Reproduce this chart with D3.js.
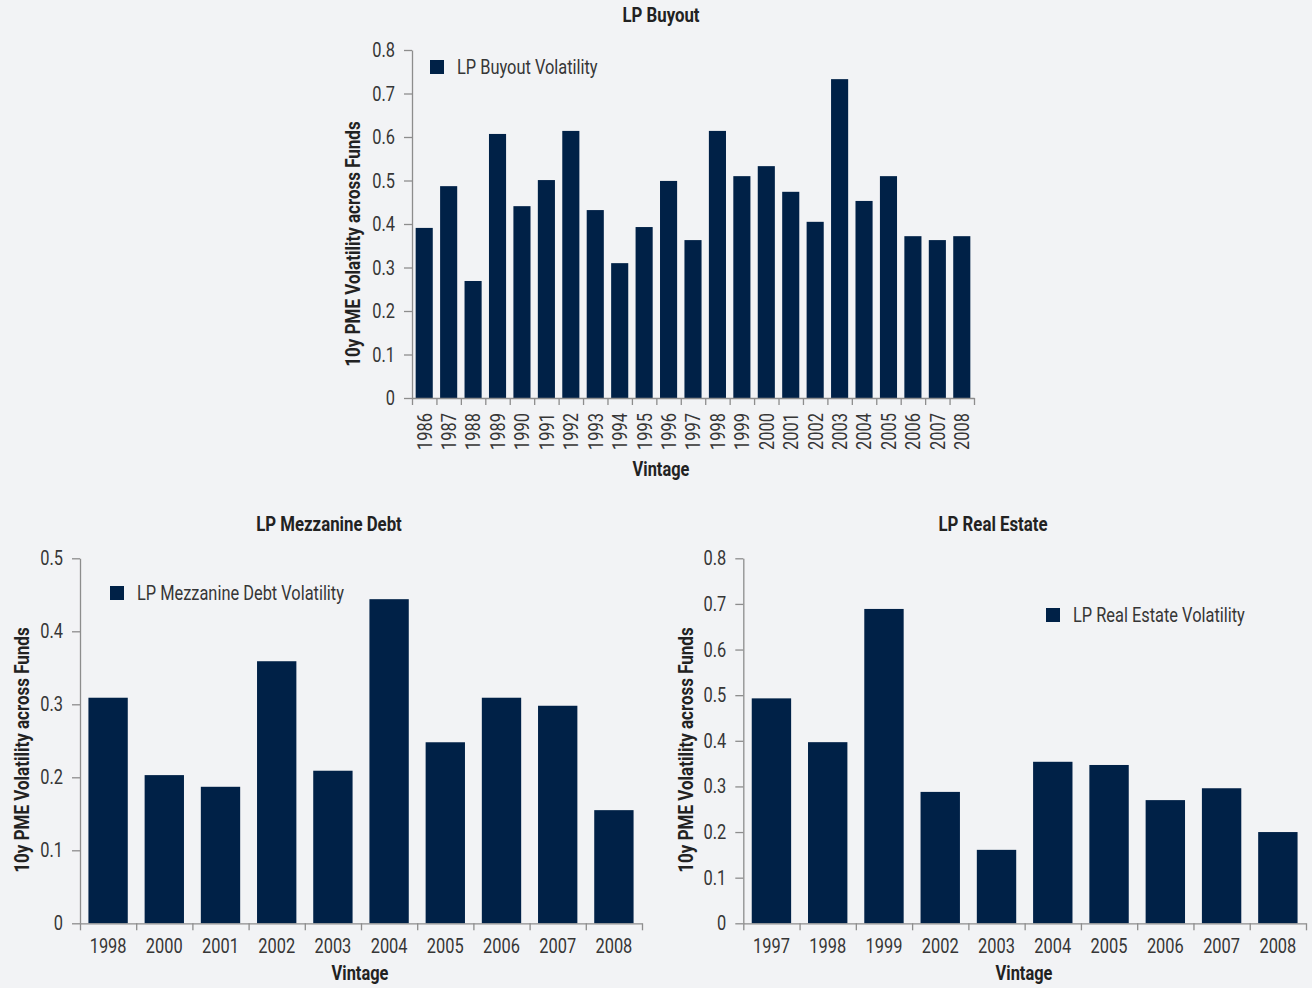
<!DOCTYPE html>
<html>
<head>
<meta charset="utf-8">
<script src="https://cdn.jsdelivr.net/npm/d3@7"></script>
<style>
  html, body { margin: 0; padding: 0; background: #f2f3f5; }
  svg { display: block; }
  text { font-family: Roboto, "Liberation Sans", sans-serif; }
</style>
</head>
<body>
<svg id="chart" width="1312" height="988"></svg>
<script>
// ---- Data ----------------------------------------------------------------
const buyoutVintages = ["1986","1987","1988","1989","1990","1991","1992","1993","1994","1995","1996","1997","1998","1999","2000","2001","2002","2003","2004","2005","2006","2007","2008"];
const buyoutVolatility = [0.391,0.487,0.269,0.607,0.441,0.501,0.614,0.432,0.310,0.393,0.499,0.363,0.614,0.510,0.533,0.474,0.405,0.733,0.453,0.510,0.372,0.363,0.372];
const buyoutTicks = [0,0.1,0.2,0.3,0.4,0.5,0.6,0.7,0.8];

const mezzVintages = ["1998","2000","2001","2002","2003","2004","2005","2006","2007","2008"];
const mezzVolatility = [0.309,0.203,0.187,0.359,0.209,0.444,0.248,0.309,0.298,0.155];
const mezzTicks = [0,0.1,0.2,0.3,0.4,0.5];

const reVintages = ["1997","1998","1999","2002","2003","2004","2005","2006","2007","2008"];
const reVolatility = [0.493,0.397,0.689,0.288,0.161,0.354,0.347,0.270,0.296,0.200];
const reTicks = [0,0.1,0.2,0.3,0.4,0.5,0.6,0.7,0.8];

const yAxisTitle = "10y PME Volatility across Funds";
const xAxisTitle = "Vintage";

// ---- Style -----------------------------------------------------------------
const BAR = "#002147";
const AXIS = "#8d8d8d";
const TICK_TEXT = "#363636";
const TITLE_TEXT = "#222222";

const svg = d3.select("#chart");

// Narrow the glyphs horizontally to get a condensed face.
function condense(sel, k) {
  sel.each(function () {
    const w = this.getComputedTextLength();
    d3.select(this).attr("textLength", w * k).attr("lengthAdjust", "spacingAndGlyphs");
  });
}

function fmt(d) { return d === 0 ? "0" : d3.format(".1f")(d); }

function drawPanel(o) {
  const g = svg.append("g");
  const n = o.categories.length;

  const x = d3.scaleBand().domain(o.categories).range(o.xRange)
    .paddingInner(0.3).paddingOuter(0.15);
  const y = d3.scaleLinear().domain([0, d3.max(o.ticks)]).range(o.yRange);

  // bars
  g.append("g").selectAll("rect").data(o.values).join("rect")
    .attr("x", (d, i) => x(o.categories[i]))
    .attr("y", d => y(d))
    .attr("width", x.bandwidth())
    .attr("height", d => y(0) - y(d))
    .attr("fill", BAR);

  // y axis
  const ya = g.append("g").attr("transform", `translate(${o.xRange[0]},0)`)
    .call(d3.axisLeft(y).tickValues(o.ticks).tickFormat(fmt).tickSize(8).tickSizeOuter(0).tickPadding(9));
  ya.selectAll("path, line").attr("stroke", AXIS).attr("stroke-width", 1.3);
  ya.selectAll("text").attr("fill", TICK_TEXT).style("font-size", "20.5px").call(condense, 0.8);

  // x axis line with ticks at the category boundaries
  const edges = d3.scaleLinear().domain([0, n]).range(o.xRange);
  const xb = g.append("g").attr("transform", `translate(0,${y(0)})`)
    .call(d3.axisBottom(edges).tickValues(d3.range(n + 1)).tickFormat("").tickSize(7).tickSizeOuter(0));
  xb.selectAll("path, line").attr("stroke", AXIS).attr("stroke-width", 1.3);

  // category labels
  const xl = g.append("g").attr("transform", `translate(0,${y(0)})`)
    .call(d3.axisBottom(x).tickSize(0).tickPadding(15.5));
  xl.select(".domain").remove();
  const lt = xl.selectAll("text").attr("fill", TICK_TEXT).style("font-size", "20.5px");
  if (o.rotate) {
    lt.attr("transform", "rotate(-90)").attr("text-anchor", "end")
      .attr("x", -15).attr("y", 0).attr("dy", "0.36em");
  }
  lt.call(condense, 0.8);

  // panel title
  g.append("text").attr("x", o.titleX).attr("y", o.titleY).attr("text-anchor", "middle")
    .attr("fill", TITLE_TEXT).style("font-size", "21px").style("font-weight", "bold")
    .text(o.title).call(condense, 0.8);

  // axis titles
  g.append("text").attr("transform", `translate(${o.yTitleX},${o.yTitleY}) rotate(-90)`)
    .attr("text-anchor", "middle").attr("fill", TITLE_TEXT)
    .style("font-size", "20px").style("font-weight", "bold")
    .text(yAxisTitle).call(condense, 0.85);
  g.append("text").attr("x", o.xTitleX).attr("y", o.xTitleY).attr("text-anchor", "middle")
    .attr("fill", TITLE_TEXT).style("font-size", "20px").style("font-weight", "bold")
    .text(xAxisTitle).call(condense, 0.82);

  // legend
  const lg = g.append("g").attr("transform", `translate(${o.legend[0]},${o.legend[1]})`);
  lg.append("rect").attr("width", 14).attr("height", 14).attr("fill", BAR);
  lg.append("text").attr("x", 27).attr("y", 13.5).attr("fill", TICK_TEXT)
    .style("font-size", "21px").text(o.legendText).call(condense, 0.78);
}

drawPanel({
  categories: buyoutVintages, values: buyoutVolatility, ticks: buyoutTicks,
  xRange: [412, 974], yRange: [398, 50], rotate: true,
  title: "LP Buyout", titleX: 661, titleY: 22,
  yTitleX: 360, yTitleY: 244, xTitleX: 661, xTitleY: 476,
  legend: [430, 60], legendText: "LP Buyout Volatility"
});

drawPanel({
  categories: mezzVintages, values: mezzVolatility, ticks: mezzTicks,
  xRange: [80, 642], yRange: [923.3, 558.3], rotate: false,
  title: "LP Mezzanine Debt", titleX: 329, titleY: 531,
  yTitleX: 29, yTitleY: 750, xTitleX: 360, xTitleY: 980,
  legend: [110, 586], legendText: "LP Mezzanine Debt Volatility"
});

drawPanel({
  categories: reVintages, values: reVolatility, ticks: reTicks,
  xRange: [743.3, 1306], yRange: [923.3, 558.3], rotate: false,
  title: "LP Real Estate", titleX: 993, titleY: 531,
  yTitleX: 693, yTitleY: 750, xTitleX: 1024, xTitleY: 980,
  legend: [1046, 608], legendText: "LP Real Estate Volatility"
});
</script>
</body>
</html>
